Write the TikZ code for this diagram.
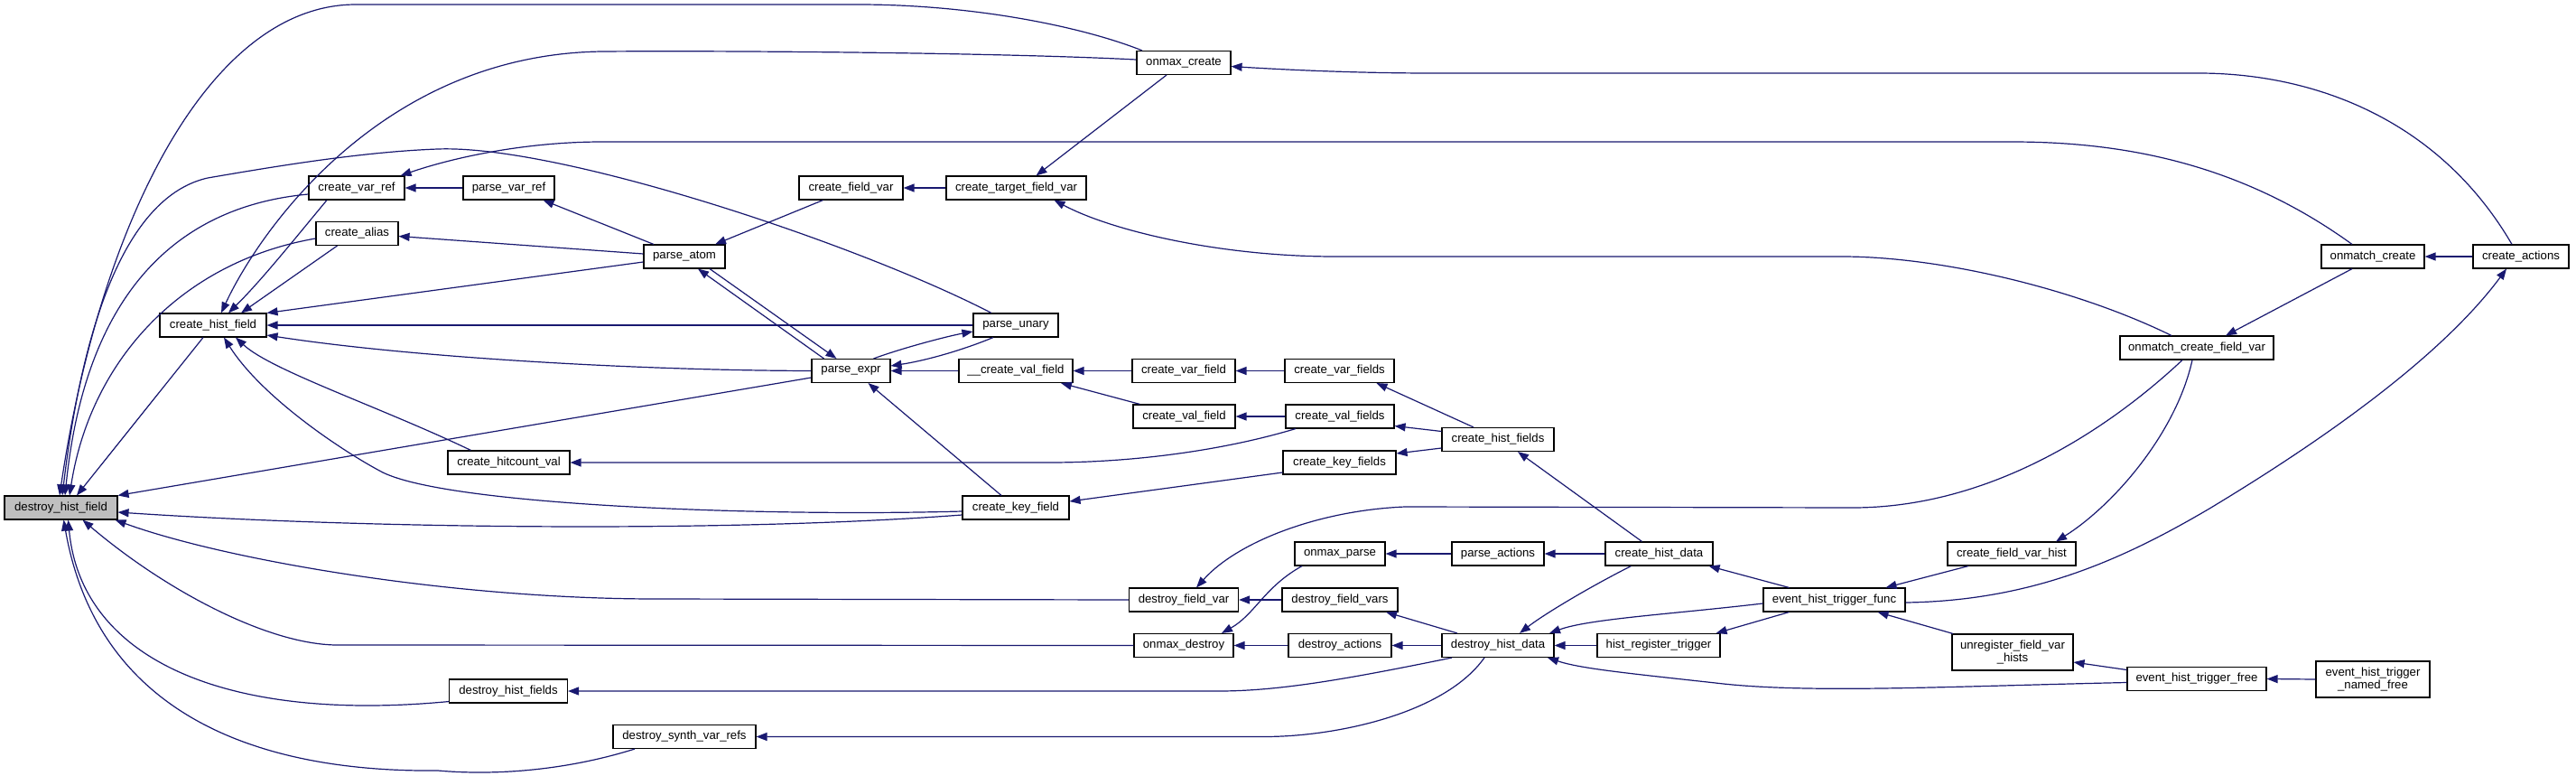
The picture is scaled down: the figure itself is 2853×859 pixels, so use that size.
\documentclass[tikz,border=0pt]{standalone}
\usepackage{fontspec}
\setmainfont{Liberation Sans}
\usetikzlibrary{arrows.meta}
\definecolor{edgec}{HTML}{191970}
\definecolor{hl}{HTML}{BFBFBF}
\begin{document}
\begin{tikzpicture}[x=1pt,y=-1pt,
  fn/.style={draw=black,line width=1.1pt,fill=white,inner sep=0pt,minimum height=26pt,
    font=\fontsize{13.2}{13.6}\selectfont,align=center},
  e/.style={draw=edgec,line width=1.2pt,-{Triangle[length=12pt,width=9pt]}}]
\fill[white] (0,0) rectangle (2853,859);
\useasboundingbox (0,0) rectangle (2853,859);
% nodes
\node[fn,fill=hl,minimum width=125pt] (dhf) at (67.5,562) {destroy\_hist\_field};
\node[fn,minimum width=118pt] (chf) at (236,360) {create\_hist\_field};
\node[fn,minimum width=106pt] (cvr) at (395,208) {create\_var\_ref};
\node[fn,minimum width=101pt] (pvr) at (563.5,208) {parse\_var\_ref};
\node[fn,minimum width=91pt] (cal) at (395.5,258.5) {create\_alias};
\node[fn,minimum width=135pt] (chv) at (563.5,512) {create\_hitcount\_val};
\node[fn,minimum width=131pt] (dhfs) at (563,765) {destroy\_hist\_fields};
\node[fn,minimum width=158pt] (dsvr) at (758,815.5) {destroy\_synth\_var\_refs};
\node[fn,minimum width=90pt] (pat) at (758,284) {parse\_atom};
\node[fn,minimum width=87pt] (pex) at (942.5,410.5) {parse\_expr};
\node[fn,minimum width=115pt] (cfv) at (942.5,208) {create\_field\_var};
\node[fn,minimum width=104pt] (omc) at (1311,69.5) {onmax\_create};
\node[fn,minimum width=155pt] (ctfv) at (1125.5,208) {create\_target\_field\_var};
\node[fn,minimum width=94pt] (pun) at (1125,360) {parse\_unary};
\node[fn,minimum width=126pt] (ucvf) at (1125,410.5) {\_\_create\_val\_field};
\node[fn,minimum width=114pt] (cvf) at (1311,410.5) {create\_var\_field};
\node[fn,minimum width=121pt] (cvfs) at (1483.5,410.5) {create\_var\_fields};
\node[fn,minimum width=113pt] (cvalf) at (1311.5,461) {create\_val\_field};
\node[fn,minimum width=120pt] (cvalfs) at (1484,461) {create\_val\_fields};
\node[fn,minimum width=124pt] (chfs) at (1659,486.5) {create\_hist\_fields};
\node[fn,minimum width=125pt] (ckfs) at (1483.5,512) {create\_key\_fields};
\node[fn,minimum width=118pt] (ckf) at (1125,562) {create\_key\_field};
\node[fn,minimum width=100pt] (ompa) at (1484,613) {onmax\_parse};
\node[fn,minimum width=102pt] (pac) at (1659,613) {parse\_actions};
\node[fn,minimum width=119pt] (chd) at (1837.5,613) {create\_hist\_data};
\node[fn,minimum width=121pt] (dfv) at (1311,664) {destroy\_field\_var};
\node[fn,minimum width=128pt] (dfvs) at (1484,664) {destroy\_field\_vars};
\node[fn,minimum width=110pt] (omd) at (1311,714.5) {onmax\_destroy};
\node[fn,minimum width=114pt] (dac) at (1484,714.5) {destroy\_actions};
\node[fn,minimum width=124pt] (dhd) at (1659,714.5) {destroy\_hist\_data};
\node[fn,minimum width=136pt] (hrt) at (1837,714.5) {hist\_register\_trigger};
\node[fn,minimum width=114pt] (omcr) at (2628,284) {onmatch\_create};
\node[fn,minimum width=106pt] (cac) at (2792,284) {create\_actions};
\node[fn,minimum width=170pt] (omcfv) at (2433,385) {onmatch\_create\_field\_var};
\node[fn,minimum width=142pt] (cfvh) at (2228,613) {create\_field\_var\_hist};
\node[fn,minimum width=157pt] (ehtf) at (2031.5,664) {event\_hist\_trigger\_func};
\node[fn,minimum width=134pt,minimum height=40pt] (ufvh) at (2229,722) {unregister\_field\_var\\\_hists};
\node[fn,minimum width=154pt] (ehtfr) at (2433,751.5) {event\_hist\_trigger\_free};
\node[fn,minimum width=126pt,minimum height=40pt] (ehtnf) at (2628,752) {event\_hist\_trigger\\\_named\_free};
% edges into destroy_hist_field
\draw[e] ([xshift=-46pt]omc.north) .. controls (1200,30) and (1080,5) .. (950,5) -- (394,5) .. controls (230,5) and (110,250) .. ([xshift=-1.5pt]dhf.north);
\draw[e] ([xshift=-27pt]pun.north) .. controls (950,270) and (620,160) .. (485,165) .. controls (400,168) and (300,185) .. (230,197) .. controls (150,215) and (95,330) .. ([xshift=1.5pt]dhf.north);
\draw[e] ([yshift=-7pt]cvr.west) .. controls (200,228) and (95,320) .. ([xshift=4.5pt]dhf.north);
\draw[e] ([yshift=-5.5pt]cal.west) .. controls (200,290) and (100,400) .. ([xshift=9.5pt]dhf.north);
\draw[e] ([xshift=-11pt]chf.south) -- ([xshift=17.5pt]dhf.north);
\draw[e] ([yshift=-7.5pt]pex.west) -- (dhf.north east);
\draw[e] ([yshift=-8pt]ckf.west) .. controls (800,590) and (400,585) .. ([yshift=-5pt]dhf.east);
\draw[e] (dfv.west) -- (727,663) .. controls (500,663) and (250,620) .. ([xshift=-3pt]dhf.south east);
\draw[e] (omd.west) -- (376,714) .. controls (300,715) and (185,655) .. ([xshift=24pt]dhf.south);
\draw[e] ([yshift=2pt]dhfs.south west) .. controls (250,800) and (90,730) .. ([xshift=8pt]dhf.south);
\draw[e] ([xshift=-55pt]dsvr.south) .. controls (620,855) and (540,858) .. (485,853) .. controls (300,855) and (110,800) .. ([xshift=3pt]dhf.south);
% edges into create_hist_field
\draw[e] ([yshift=3.5pt]omc.west) .. controls (1100,58) and (800,56) .. (667,57) .. controls (420,60) and (285,260) .. ([xshift=9pt]chf.north);
\draw[e] ([xshift=-33pt]cvr.south) .. controls (330,260) and (290,310) .. ([xshift=17pt]chf.north);
\draw[e] ([xshift=-22pt]cal.south) -- ([xshift=31pt]chf.north);
\draw[e] ([yshift=-6pt]pat.west) -- (chf.north east);
\draw[e] (pun.west) -- (chf.east);
\draw[e] (pex.west) .. controls (700,410) and (450,395) .. ([yshift=-11pt]chf.east);
\draw[e] ([yshift=-4pt]ckf.west) .. controls (850,572) and (500,560) .. (424,523) .. controls (380,500) and (290,440) .. ([xshift=12pt]chf.south);
\draw[e] ([xshift=-42pt]chv.north) .. controls (420,450) and (300,410) .. ([xshift=25pt]chf.south);
% create_var_ref, create_alias, parse_var_ref
\draw[e] (pvr.west) -- (cvr.east);
\draw[e] ([xshift=-23pt]omcr.north) .. controls (2480,180) and (2350,157) .. (2228,157) -- (667,157) .. controls (580,157) and (500,175) .. ([xshift=-5pt]cvr.north east);
\draw[e] ([yshift=3pt]pat.west) -- ([yshift=-3pt]cal.east);
\draw[e] ([xshift=-34pt]pat.north) -- ([xshift=38pt]pvr.south);
% parse_atom, parse_expr, parse_unary
\draw[e] ([xshift=-31pt]cfv.south) -- ([xshift=34pt]pat.north);
\draw[e] ([xshift=-30pt]pex.north) -- ([xshift=15pt]pat.south);
\draw[e] ([xshift=28pt]pat.south) -- ([xshift=-16pt]pex.north);
\draw[e] ([xshift=25pt]pex.north) .. controls (1000,385) and (1050,372) .. ([yshift=-7pt]pun.west);
\draw[e] ([xshift=-25pt]pun.south) .. controls (1060,390) and (1020,400) .. ([yshift=5.5pt]pex.east);
\draw[e] (ucvf.west) -- (pex.east);
\draw[e] ([xshift=-16pt]ckf.north) -- ([xshift=19pt]pex.south);
% value / key fields
\draw[e] (cvf.west) -- (ucvf.east);
\draw[e] ([xshift=-49pt]cvalf.north) -- ([xshift=50pt]ucvf.south);
\draw[e] (cvfs.west) -- (cvf.east);
\draw[e] ([xshift=-27pt]chfs.north) -- ([xshift=41pt]cvfs.south);
\draw[e] (cvalfs.west) -- (cvalf.east);
\draw[e] ([yshift=9pt]chfs.west) -- ([yshift=-10.5pt]cvalfs.east);
\draw[e] ([xshift=-49pt]cvalfs.south) .. controls (1350,500) and (1250,512) .. (1162,512) -- (chv.east);
\draw[e] ([yshift=-9.5pt]chfs.west) -- ([yshift=10pt]ckfs.east);
\draw[e] ([yshift=-11pt]ckfs.west) -- ([yshift=7pt]ckf.east);
\draw[e] ([xshift=-19pt]chd.north) -- ([xshift=22pt]chfs.south);
% actions / destroy
\draw[e] (pac.west) -- (ompa.east);
\draw[e] (chd.west) -- (pac.east);
\draw[e] (dfvs.west) -- (dfv.east);
\draw[e] ([xshift=-16pt]omcfv.south) .. controls (2330,480) and (2200,562) .. (2052,562) -- (1556,561) .. controls (1460,565) and (1370,600) .. ([xshift=14pt]dfv.north);
\draw[e] ([xshift=-42pt]ompa.south) .. controls (1400,650) and (1390,680) .. ([xshift=42pt]omd.north);
\draw[e] (dac.west) -- (omd.east);
\draw[e] (dhd.west) -- (dac.east);
\draw[e] ([xshift=-45pt]dhd.north) -- ([xshift=51pt]dfvs.south);
\draw[e] ([xshift=-31pt]chd.south) .. controls (1760,650) and (1710,680) .. ([xshift=24pt]dhd.north);
\draw[e] (hrt.west) -- (dhd.east);
\draw[e] ([yshift=-4pt]ehtf.west) .. controls (1850,680) and (1760,685) .. ([xshift=57pt]dhd.north);
\draw[e] ([yshift=-4pt]ehtfr.west) .. controls (2150,760) and (2000,768) .. (1900,756) .. controls (1800,745) and (1750,740) .. ([xshift=55pt]dhd.south);
\draw[e] ([xshift=-51pt]dhd.south) .. controls (1500,750) and (1420,765) .. (1350,765) -- (dhfs.east);
\draw[e] ([xshift=-15pt]dhd.south) .. controls (1600,790) and (1480,815.5) .. (1400,815.5) -- (dsvr.east);
% event hist trigger
\draw[e] ([xshift=-50pt]ehtf.north) -- ([xshift=-5pt]chd.south east);
\draw[e] ([xshift=-50pt]ehtf.south) -- ([xshift=-5pt]hrt.north east);
\draw[e] ([xshift=-48pt]cfvh.south) -- ([xshift=57pt]ehtf.north);
\draw[e] ([xshift=-66pt]ufvh.north) -- ([xshift=48pt]ehtf.south);
\draw[e] ([yshift=-3pt]ehtf.east) .. controls (2250,665) and (2350,620) .. (2447,563) .. controls (2560,495) and (2700,400) .. ([xshift=-16pt]cac.south);
\draw[e] ([xshift=-5pt]omcfv.south) .. controls (2410,480) and (2340,560) .. ([xshift=49pt]cfvh.north);
\draw[e] ([yshift=10pt]ehtfr.west) -- ([yshift=-11pt]ufvh.east);
\draw[e] (ehtnf.west) -- (ehtfr.east);
% onmax / onmatch
\draw[e] ([xshift=-10pt]cac.north) .. controls (2700,130) and (2560,81) .. (2435,81) -- (1586,81) .. controls (1500,81) and (1420,77) .. ([yshift=-4pt]omc.east);
\draw[e] ([xshift=-19pt]omc.south) -- ([xshift=22pt]ctfv.north);
\draw[e] (ctfv.west) -- (cfv.east);
\draw[e] ([xshift=-28pt]omcfv.north) .. controls (2300,320) and (2150,284) .. (2040,284) -- (1479,284) .. controls (1350,284) and (1230,255) .. ([xshift=42pt]ctfv.south);
\draw[e] ([xshift=-23pt]omcr.south) -- ([xshift=32pt]omcfv.north);
\draw[e] (cac.west) -- (omcr.east);
\end{tikzpicture}
\end{document}
